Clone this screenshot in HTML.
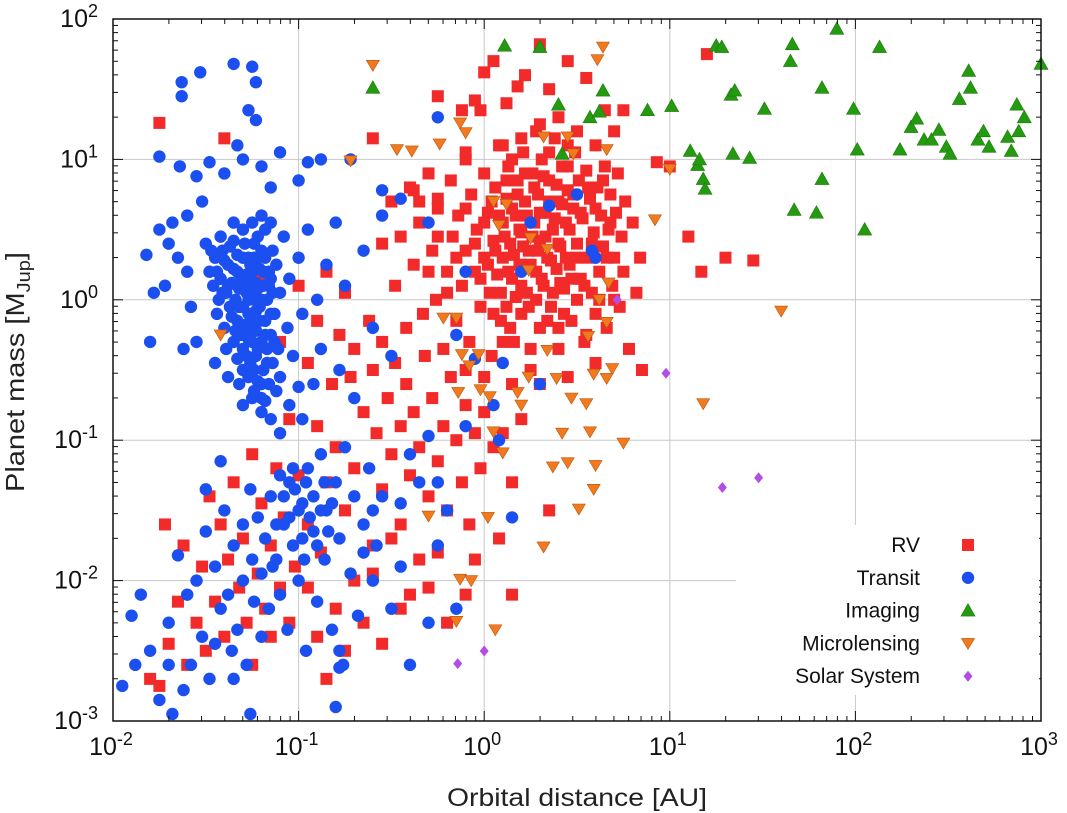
<!DOCTYPE html>
<html><head><meta charset="utf-8"><style>
html,body{margin:0;padding:0;background:#fff;}
svg{display:block;font-family:"Liberation Sans","DejaVu Sans",sans-serif;}
</style></head><body>
<svg id="chart" width="1067" height="813" viewBox="0 0 1067 813" xmlns="http://www.w3.org/2000/svg">
<g id="grid"></g>
<g id="marks"></g>
<g id="axes"></g>
<g id="legend"></g>
<text transform="translate(24,372) rotate(-90)" text-anchor="middle" font-size="26" fill="#222" textLength="240" lengthAdjust="spacingAndGlyphs">Planet mass [M<tspan font-size="18" dy="6">Jup</tspan><tspan dy="-6">]</tspan></text>
<text x="577" y="806" text-anchor="middle" font-size="25" fill="#222" textLength="260" lengthAdjust="spacingAndGlyphs">Orbital distance [AU]</text>
</svg>
<script>
// log10(AU), log10(M_Jup) pairs
const xTickExps = [-2,-1,0,1,2,3];
const yTickExps = [-3,-2,-1,0,1,2];
const solarNames = ["Venus","Earth","Jupiter","Saturn","Uranus","Neptune"];
const solarAU = [0.72,1.0,5.2,9.54,19.2,30.1];
const solarMass = [0.00256,0.00315,1.0,0.30,0.046,0.054];
const imagingPts = [[-0.6,1.51],[0.11,1.81],[0.30,1.8],[0.42,1.04],[0.57,1.3],[0.62,1.34],[0.64,1.49],[0.88,1.35],[1.01,1.38],[1.11,1.06],[1.15,0.96],[1.16,1.0],[1.18,0.86],[1.19,0.79],[1.25,1.81],[1.28,1.8],[1.33,1.46],[1.35,1.49],[1.34,1.04],[1.43,1.01],[1.51,1.36],[1.65,1.7],[1.66,1.82],[1.67,0.64],[1.79,0.62],[1.82,0.86],[1.82,1.51],[1.9,1.93],[1.99,1.36],[2.01,1.07],[2.05,0.5],[2.13,1.8],[2.24,1.07],[2.3,1.23],[2.33,1.29],[2.37,1.14],[2.41,1.14],[2.45,1.21],[2.49,1.09],[2.51,1.04],[2.56,1.43],[2.61,1.63],[2.62,1.51],[2.66,1.14],[2.69,1.2],[2.72,1.09],[2.82,1.16],[2.84,1.06],[2.87,1.39],[2.88,1.2],[2.91,1.3],[3.0,1.68],[0.4,1.39]];
const microPts = [[-0.6,1.67],[-0.72,0.99],[-0.47,1.07],[-0.39,1.06],[-0.24,1.11],[-0.1,1.19],[-0.13,1.26],[0.05,0.7],[0.12,0.68],[0.08,0.53],[0.25,0.44],[0.34,0.36],[0.24,0.21],[0.32,1.16],[0.45,1.16],[0.48,1.04],[0.61,1.71],[0.64,1.8],[0.66,1.07],[0.67,0.12],[0.62,0.0],[0.66,-0.16],[0.69,-0.49],[0.92,0.57],[1.0,0.93],[0.56,-0.26],[0.24,-0.55],[0.39,-0.56],[0.59,-0.53],[0.66,-0.56],[0.34,-0.36],[0.05,-0.94],[0.1,-1.09],[-0.03,-0.39],[-0.12,-0.39],[-0.14,-0.66],[-0.22,-0.13],[-0.15,-0.13],[-0.08,-0.47],[-0.02,-0.64],[0.03,-0.69],[0.18,-0.66],[0.2,-0.75],[0.42,-0.95],[0.47,-0.7],[0.57,-0.94],[0.6,-1.18],[0.45,-1.16],[0.37,-1.19],[0.51,-1.49],[0.59,-1.35],[0.55,-0.74],[0.75,-1.02],[1.18,-0.74],[1.6,-0.08],[0.32,-1.76],[-0.13,-1.99],[-0.07,-2.0],[-0.3,-1.54],[0.02,-1.55],[-0.15,-2.29],[0.06,-2.35],[-1.42,-0.25]];
const transitPts = [[-1.63,1.45],[-1.63,1.55],[-1.35,1.68],[-1.25,1.66],[-1.23,1.55],[-1.53,1.62],[-1.27,1.35],[-1.23,1.28],[-1.75,1.02],[-1.64,0.95],[-1.55,0.88],[-1.48,0.98],[-1.4,0.9],[-1.33,1.1],[-1.3,1.0],[-1.2,0.95],[-1.1,1.05],[-1.15,0.8],[-1.0,0.85],[-0.95,0.98],[-0.88,1.0],[-0.72,1.0],[-0.55,0.78],[-0.45,0.72],[-0.25,1.3],[0.35,0.67],[0.5,0.75],[0.58,0.35],[0.6,0.3],[0.25,0.55],[-0.3,0.55],[-0.1,0.2],[0.2,0.2],[0.1,-0.45],[-0.05,-0.42],[-0.15,-0.25],[0.3,-0.6],[0.05,-0.75],[-0.1,-0.9],[-0.3,-0.97],[-0.4,-1.1],[0.08,-1.0],[0.15,-1.55],[-0.25,-1.3],[-0.45,-1.45],[-0.6,-1.5],
[-1.82,0.32],[-1.78,0.05],[-1.8,-0.3],[-1.72,0.1],[-1.7,0.4],[-1.65,0.3],[-1.6,0.2],[-1.75,0.5],[-1.68,0.55],[-1.6,0.6],[-1.58,-0.05],[-1.55,-0.3],[-1.62,-0.35],[-1.52,0.7],
[-1.5,0.4],[-1.48,0.2],[-1.46,0.1],[-1.45,0.3],[-1.44,-0.1],[-1.43,0.0],[-1.42,0.15],[-1.41,0.35],[-1.4,-0.2],[-1.39,0.05],[-1.38,0.25],[-1.37,-0.05],[-1.36,0.12],[-1.35,-0.3],[-1.35,0.42],[-1.34,0.0],[-1.33,-0.15],[-1.33,0.2],[-1.32,0.08],[-1.31,-0.25],[-1.3,0.3],[-1.3,-0.05],[-1.29,0.1],[-1.28,-0.4],[-1.28,0.18],[-1.27,0.0],[-1.27,-0.1],[-1.26,-0.2],[-1.26,0.25],[-1.25,0.05],[-1.25,-0.3],[-1.24,-0.5],[-1.24,0.4],[-1.23,-0.08],[-1.23,0.12],[-1.22,-0.35],[-1.22,0.3],[-1.21,-0.15],[-1.2,0.0],[-1.2,-0.6],[-1.19,0.2],[-1.18,-0.25],[-1.18,0.5],[-1.17,-0.45],[-1.16,0.1],[-1.15,-0.1],[-1.14,0.35],[-1.13,-0.3],[-1.12,0.25],[-1.1,-0.55],[-1.1,0.05],[-1.08,0.45],[-1.06,-0.2],[-1.05,0.15],[-1.03,-0.4],[-1.0,0.3],[-0.98,-0.1],[-0.95,0.5],[-0.92,-0.6],[-0.9,0.0],[-0.88,-0.35],[-0.85,0.25],[-0.8,0.55],[-0.78,-0.5],[-0.75,0.1],[-0.7,-0.7],[-0.65,0.35],[-0.6,-0.2],[-0.55,0.6],[-0.5,-0.4],[-1.45,-0.45],[-1.38,-0.55],[-1.32,-0.6],[-1.3,-0.75],[-1.25,-0.7],[-1.2,-0.8],[-1.18,-0.72],[-1.15,-0.85],[-1.1,-0.95],[-1.05,-0.75],[-1.0,-0.62],[-0.98,-0.85],
[-1.8,-2.5],[-1.85,-2.1],[-1.7,-2.3],[-1.7,-2.6],[-1.65,-1.82],[-1.6,-2.1],[-1.58,-2.6],[-1.55,-2.0],[-1.52,-2.4],[-1.5,-1.65],[-1.48,-2.7],[-1.45,-1.9],[-1.42,-2.2],[-1.4,-1.5],[-1.38,-2.1],[-1.36,-2.5],[-1.35,-1.75],[-1.33,-2.35],[-1.3,-1.6],[-1.3,-2.0],[-1.28,-2.6],[-1.26,-1.35],[-1.25,-1.85],[-1.24,-2.15],[-1.22,-1.55],[-1.2,-1.95],[-1.2,-2.4],[-1.18,-1.7],[-1.16,-2.2],[-1.15,-1.4],[-1.12,-1.85],[-1.1,-2.1],[-1.08,-1.6],[-1.06,-2.35],[-1.05,-1.3],[-1.03,-1.75],[-1.0,-2.0],[-0.98,-1.45],[-0.96,-2.5],[-0.95,-1.2],[-0.92,-1.65],[-0.9,-2.15],[-0.88,-1.1],[-0.86,-1.85],[-0.85,-1.5],[-0.82,-2.35],[-0.8,-1.3],[-0.78,-1.7],[-0.76,-2.6],[-0.75,-1.05],[-0.72,-1.95],[-0.7,-1.4],[-0.68,-2.25],[-0.65,-1.6],[-0.62,-1.2],[-0.6,-2.0],[-0.58,-1.75],[-0.55,-1.4],[-0.5,-2.2],[-0.45,-1.9],[-0.4,-2.6],[-0.35,-1.3],[-0.3,-2.3],[-0.25,-1.75],[-0.2,-1.5],[-0.15,-2.2],[-1.88,-2.6],[-1.95,-2.75],[-1.9,-2.25],[-1.75,-2.85],[-1.62,-2.78],[-1.45,-2.45],[-1.35,-2.7],[-1.5,-1.35],[-1.42,-1.15],[-0.8,-2.9],[-0.65,-1.8],[-1.68,-2.95],[-1.26,-2.95],[-0.78,-2.5],[-0.78,-2.62]];
const transitDensePts = [[-1.42,0.45],[-1.4,0.28],[-1.38,0.1],[-1.37,0.38],[-1.36,-0.12],[-1.35,0.22],[-1.34,-0.22],[-1.33,0.32],[-1.32,-0.05],[-1.31,0.15],[-1.3,-0.35],[-1.29,0.4],[-1.29,-0.18],[-1.28,0.05],[-1.27,0.3],[-1.27,-0.28],[-1.26,0.12],[-1.26,-0.45],[-1.25,0.2],[-1.25,-0.12],[-1.24,0.0],[-1.24,0.3],[-1.23,-0.22],[-1.23,-0.4],[-1.22,0.08],[-1.22,0.45],[-1.21,-0.05],[-1.21,0.22],[-1.2,-0.3],[-1.2,0.35],[-1.19,-0.5],[-1.19,0.1],[-1.18,-0.15],[-1.18,0.3],[-1.17,0.0],[-1.17,-0.35],[-1.16,0.2],[-1.16,-0.6],[-1.15,-0.25],[-1.15,0.15],[-1.14,-0.45],[-1.14,0.05],[-1.13,-0.1],[-1.12,-0.65],[-1.11,-0.35],[-1.2,-0.7],[-1.22,-0.58],[-1.24,-0.65],[-1.27,-0.55],[-1.3,-0.5],[-1.33,-0.42],[-1.39,-0.35],[-1.41,0.05],[-1.44,0.2],[-1.47,0.35],[-1.35,0.55],[-1.3,0.5],[-1.25,0.55],[-1.2,0.6],[-1.15,0.55],
[-1.1,-1.25],[-1.08,-1.4],[-1.05,-1.55],[-1.02,-1.35],[-1.0,-1.5],[-0.98,-1.7],[-0.96,-1.3],[-0.94,-1.55],[-0.92,-1.4],[-0.9,-1.75],[-0.88,-1.5],[-0.86,-1.3],[-0.84,-1.65],[-0.82,-1.45],[-1.03,-1.2],[-0.97,-1.85],[-1.12,-1.6],[-1.14,-1.9]];
const rvPts = [[-1.75,1.26],[-0.6,1.15],[-0.38,0.78],[-0.25,0.72],[-0.1,1.05],[-0.05,1.42],[-0.02,1.35],[0.0,1.62],[0.05,1.7],[0.12,1.4],[0.18,1.52],[0.22,1.6],[0.3,1.82],[0.35,1.5],[0.4,1.3],[0.45,1.7],[0.55,1.58],[0.65,1.35],[0.7,1.2],[0.75,1.35],[0.93,0.98],[1.0,0.95],[1.1,0.45],[1.17,0.2],[1.3,0.3],[1.45,0.28],[1.2,1.75],[-1.4,1.15],[-0.25,1.45],[-0.12,1.35],[0.1,1.1],[0.28,1.2],
[-0.55,0.4],[-0.5,0.7],[-0.48,0.1],[-0.45,0.45],[-0.42,-0.2],[-0.4,0.8],[-0.38,0.25],[-0.35,0.55],[-0.33,-0.1],[-0.3,0.9],[-0.28,0.35],[-0.26,0.0],[-0.25,0.65],[-0.22,-0.35],[-0.2,0.2],[-0.18,0.85],[-0.17,0.45],[-0.15,-0.15],[-0.14,0.6],[-0.12,0.1],[-0.1,1.0],[-0.1,0.35],[-0.08,-0.3],[-0.07,0.75],[-0.05,0.2],[-0.04,0.5],[-0.02,-0.05],[0.0,0.9],[0.0,0.3],[0.02,0.62],[0.03,0.05],[0.04,-0.4],[0.05,0.42],[0.06,0.8],[0.07,0.18],[0.08,1.1],[0.09,-0.15],[0.1,0.55],[0.1,0.3],[0.12,0.72],[0.12,-0.05],[0.13,0.95],[0.14,0.4],[0.15,0.15],[0.16,-0.3],[0.17,0.6],[0.18,0.85],[0.19,0.25],[0.2,-0.1],[0.2,0.48],[0.21,1.05],[0.22,0.7],[0.23,0.05],[0.24,0.35],[0.25,-0.5],[0.26,0.9],[0.27,0.55],[0.28,0.2],[0.29,0.75],[0.3,-0.2],[0.3,0.42],[0.31,1.0],[0.32,0.1],[0.33,0.62],[0.34,0.3],[0.35,0.85],[0.36,-0.05],[0.37,0.5],[0.38,1.15],[0.39,0.22],[0.4,0.7],[0.4,-0.35],[0.41,0.38],[0.42,0.95],[0.43,0.08],[0.44,0.55],[0.45,0.78],[0.46,0.25],[0.47,-0.15],[0.48,0.65],[0.49,1.05],[0.5,0.4],[0.5,0.0],[0.51,0.85],[0.52,0.15],[0.53,0.58],[0.54,-0.3],[0.55,0.92],[0.56,0.3],[0.57,0.72],[0.58,0.05],[0.59,0.48],[0.6,1.1],[0.6,-0.1],[0.61,0.8],[0.62,0.2],[0.63,0.6],[0.64,0.38],[0.65,0.95],[0.66,-0.2],[0.67,0.5],[0.68,0.75],[0.69,0.1],[0.7,0.3],[0.71,0.62],[0.72,0.9],[0.73,-0.05],[0.74,0.45],[0.75,0.2],[0.76,0.7],[0.78,-0.35],[0.8,0.55],[0.82,0.05],[0.84,0.3],[0.85,-0.5],[0.6,-0.45],[0.45,-0.55],[0.3,-0.6],[0.15,-0.6],[0.0,-0.55],[-0.1,-0.5],
[-1.25,-0.1],[-1.2,0.15],[-1.1,-0.3],[-1.0,0.1],[-0.95,-0.45],[-0.9,-0.15],[-0.85,0.2],[-0.82,-0.6],[-0.78,-0.25],[-0.75,0.05],[-0.72,-0.55],[-0.7,-0.35],[-0.65,-0.8],[-0.62,-0.15],[-0.6,-0.5],[-0.58,-0.95],[-0.55,-0.3],[-0.52,-0.7],[-0.5,-1.1],[-0.48,-0.45],[-0.45,-0.9],[-0.42,-0.6],[-0.4,-1.25],[-0.38,-0.8],[-0.35,-1.05],[-0.32,-0.4],[-0.3,-1.4],[-0.28,-0.7],[-0.25,-1.15],[-0.22,-0.9],[-0.2,-1.5],[-0.18,-0.55],[-0.15,-1.0],[-0.12,-1.3],[-0.1,-0.75],[-0.08,-1.6],[-0.05,-0.95],[-0.02,-1.2],[0.0,-0.8],[0.05,-1.05],[0.1,-0.95],[0.2,-0.85],[0.35,-1.5],[0.15,-1.3],[-0.25,-1.8],[-0.35,-1.85],[-0.45,-1.6],[-0.55,-1.35],[-0.6,-1.75],[-0.7,-1.2],[-0.75,-1.5],[-0.8,-1.05],[-0.85,-1.3],[-0.88,-1.8],[-0.9,-0.9],[-0.95,-1.6],[-1.0,-1.25],[-1.02,-1.9],[-1.05,-0.85],[-1.08,-1.55],[-1.1,-2.05],[-1.12,-1.2],[-1.15,-1.75],[-1.18,-2.2],[-1.2,-1.45],[-1.22,-1.95],[-1.25,-1.1],[-1.28,-2.3],[-1.3,-1.7],[-1.32,-2.05],[-1.35,-1.3],[-1.38,-1.85],[-1.4,-2.4],[-1.42,-1.6],[-1.45,-2.15],[-1.48,-1.4],[-1.5,-2.5],[-1.52,-1.9],[-1.55,-2.3],[-1.6,-2.6],[-1.62,-1.75],[-1.65,-2.15],[-1.7,-2.45],[-1.75,-2.75],[-1.8,-2.7],[-1.72,-1.6],[-1.15,-2.4],[-1.05,-2.3],[-0.95,-2.05],[-0.9,-2.4],[-0.8,-2.2],[-0.7,-2.0],[-0.65,-2.3],[-0.6,-1.95],[-0.5,-1.7],[-0.45,-2.2],[-0.4,-2.1],[-0.3,-2.05],[-0.2,-2.3],[-0.1,-2.1],[-0.05,-1.85],[0.15,-2.1],[0.08,-1.7],[-0.75,-2.5],[-0.85,-2.7],[-1.25,-2.6],[-0.55,-2.45]];
const rvDensePts = [[-0.05,0.4],[-0.02,0.15],[0.0,0.55],[0.02,0.25],[0.04,0.7],[0.05,-0.1],[0.06,0.35],[0.08,0.6],[0.09,0.05],[0.11,0.45],[0.12,0.85],[0.13,0.2],[0.14,-0.2],[0.15,0.65],[0.16,0.32],[0.17,0.02],[0.18,0.75],[0.19,0.5],[0.2,0.1],[0.21,0.38],[0.22,0.9],[0.23,0.6],[0.24,-0.05],[0.25,0.25],[0.26,0.45],[0.27,0.8],[0.28,0.0],[0.29,0.35],[0.3,0.62],[0.31,0.15],[0.32,0.88],[0.33,0.45],[0.34,-0.15],[0.35,0.7],[0.36,0.28],[0.37,0.05],[0.38,0.58],[0.39,0.82],[0.4,0.4],[0.41,0.12],[0.42,0.68],[0.43,-0.1],[0.44,0.3],[0.45,0.95],[0.46,0.5],[0.47,0.15],[0.48,0.75],[0.5,0.3],[0.52,0.62],[0.54,0.1],[0.56,0.8],[0.58,0.4],[0.6,0.65],[0.62,0.0],[0.64,0.85],[0.66,0.3],[0.68,0.55],[0.7,0.0],[-0.1,0.65],[-0.15,0.3],[-0.2,0.05],[-0.25,0.45],[-0.3,0.2],[-0.35,0.7],[0.1,-0.3],[0.25,-0.35],[0.4,-0.2],[0.55,-0.25],[0.2,1.15],[0.35,1.05],[0.5,1.2],[0.15,1.0],[0.3,1.25],[0.45,1.1]];

const NS="http://www.w3.org/2000/svg";
const L=113,R=1041,T=19,B=721;
const xs=lg=>L+(lg+2)/5*(R-L);
const ys=lg=>B-(lg+3)/5*(B-T);
function mk(tag,attrs,parent){const e=document.createElementNS(NS,tag);for(const k in attrs)e.setAttribute(k,attrs[k]);parent.appendChild(e);return e;}
const grid=document.getElementById('grid'),marks=document.getElementById('marks'),axes=document.getElementById('axes'),legend=document.getElementById('legend');
xTickExps.forEach(e=>{const l=mk('line',{x1:xs(e),x2:xs(e),y1:T,y2:B,stroke:'#c8c8c8','stroke-width':1},grid);

});
yTickExps.forEach(e=>{const l=mk('line',{x1:L,x2:R,y1:ys(e),y2:ys(e),stroke:'#c8c8c8','stroke-width':1},grid);

});
const COL={rv:'#f22a2a',tr:'#1c4ff0',im:'#249a10',mi:'#f27a1e',ss:'#b24de6'};
function square(cx,cy,g,c){return mk('rect',{x:cx-6,y:cy-6,width:12,height:12,fill:c},g);}
function circle(cx,cy,g,c){return mk('circle',{cx:cx,cy:cy,r:6.2,fill:c},g);}
function tri(cx,cy,g,c){return mk('polygon',{points:`${cx},${cy-7} ${cx+7},${cy+5.5} ${cx-7},${cy+5.5}`,fill:c,stroke:'#1c7a0a','stroke-width':0.6},g);}
function dtri(cx,cy,g,c){return mk('polygon',{points:`${cx-6.5},${cy-5} ${cx+6.5},${cy-5} ${cx},${cy+6}`,fill:c,stroke:'#b8550e','stroke-width':0.6},g);}
function dia(cx,cy,g,c){return mk('polygon',{points:`${cx},${cy-5.5} ${cx+4.5},${cy} ${cx},${cy+5.5} ${cx-4.5},${cy}`,fill:c},g);}
function series(pts,fn,c,name){const g=mk('g',{},marks);


pts.forEach(p=>{const m=fn(xs(p[0]),ys(p[1]),g,c);

});}
series(rvPts.concat(rvDensePts),square,COL.rv,'rv');
series(transitPts.concat(transitDensePts),circle,COL.tr,'transit');
series(microPts,dtri,COL.mi,'microlensing');
series(imagingPts,tri,COL.im,'imaging');
series(solarAU.map((a,i)=>[Math.log10(a),Math.log10(solarMass[i])]),dia,COL.ss,'solar-system');
const fr=mk('rect',{x:L,y:T,width:R-L,height:B-T,fill:'none',stroke:'#111','stroke-width':1.5},axes);


for(let e=-2;e<3;e++)for(let k=1;k<10;k++){const x=xs(e+Math.log10(k));const len=k==1?10:5;
mk('line',{x1:x,x2:x,y1:B,y2:B-len,stroke:'#111'},axes);mk('line',{x1:x,x2:x,y1:T,y2:T+len,stroke:'#111'},axes);}
for(let e=-3;e<2;e++)for(let k=1;k<10;k++){const y=ys(e+Math.log10(k));const len=k==1?10:5;
mk('line',{x1:L,x2:L+len,y1:y,y2:y,stroke:'#111'},axes);mk('line',{x1:R,x2:R-len,y1:y,y2:y,stroke:'#111'},axes);}
xTickExps.forEach(e=>{const t=mk('text',{x:xs(e)-2,y:755,'text-anchor':'middle','font-size':25,fill:'#111'},axes);


t.innerHTML=`10<tspan dy="-10" font-size="18">${e<0?'-'+(-e):e}</tspan>`;});
yTickExps.forEach(e=>{const t=mk('text',{x:L-15,y:ys(e)+8,'text-anchor':'end','font-size':25,fill:'#111'},axes);


t.innerHTML=`10<tspan dy="-10" font-size="18">${e<0?'-'+(-e):e}</tspan>`;});
const lb=mk('rect',{x:736,y:525,width:303,height:170,fill:'#fff'},legend);


const legItems=[['RV',square,COL.rv],['Transit',circle,COL.tr],['Imaging',tri,COL.im],['Microlensing',dtri,COL.mi],['Solar System',dia,COL.ss]];
legItems.forEach((it,i)=>{const y=545+i*32.8;const g=mk('g',{},legend);


const t=mk('text',{x:920,y:y+7,'text-anchor':'end','font-size':21,fill:'#111'},g);t.textContent=it[0];
it[1](968,y,g,it[2]);});
</script>
</body></html>
